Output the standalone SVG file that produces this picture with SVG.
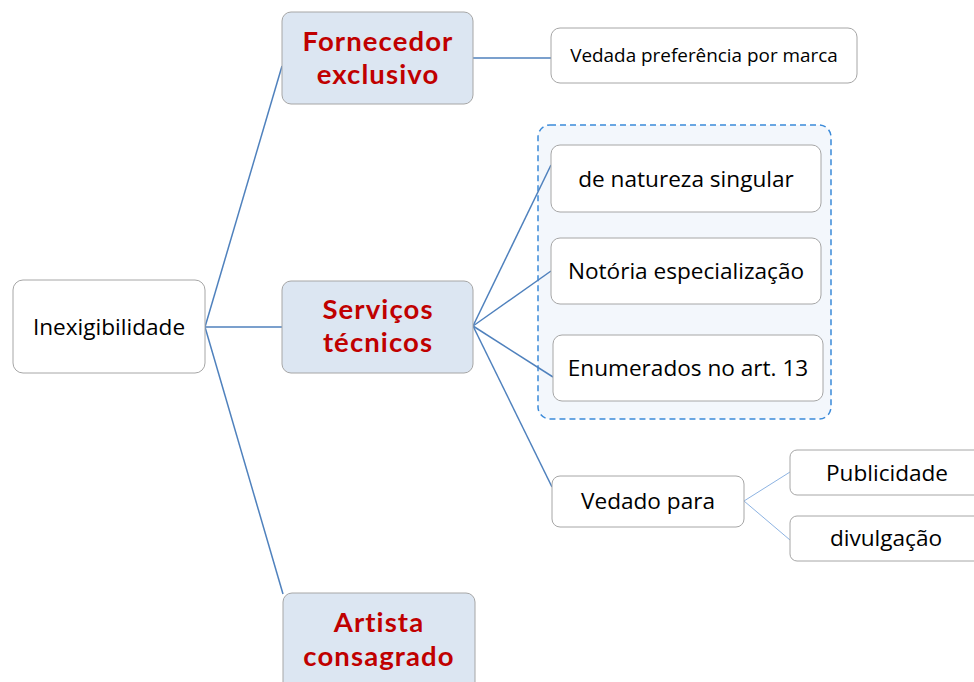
<svg xmlns="http://www.w3.org/2000/svg" width="974" height="682" viewBox="0 0 974 682">
<style>
.box{fill:#ffffff;stroke:#a6a6a6;stroke-width:1}
.cat{fill:#dce6f2;stroke:#a6a6a6;stroke-width:1}
.t{font-family:"Open Sans","Liberation Sans",sans-serif;fill:#000;text-anchor:middle;font-size:22.6px}
.r{font-family:Lato,"Open Sans",sans-serif;fill:#c00000;font-weight:bold;text-anchor:middle;font-size:27.5px;letter-spacing:1.1px}
.c{stroke:#4f81bd;stroke-width:1.5;fill:none}
.c2{stroke:#8db3e2;stroke-width:1;fill:none}
</style>
<rect width="974" height="682" fill="#fff"/>
<g id="grupo">
<rect x="538" y="125" width="293" height="294" rx="12" fill="#f3f7fc" stroke="#3b8ad9" stroke-width="1.5" stroke-dasharray="6,4"/>
</g>
<g id="connectors">
<line class="c" x1="205" y1="327" x2="282" y2="66"/>
<line class="c" x1="205" y1="327" x2="282" y2="327"/>
<line class="c" x1="205" y1="327" x2="283" y2="594"/>
<line class="c" x1="473" y1="58" x2="551" y2="58"/>
<line class="c" x1="473" y1="326" x2="551" y2="165"/>
<line class="c" x1="473" y1="326" x2="551" y2="271"/>
<line class="c" x1="473" y1="326" x2="553" y2="377"/>
<line class="c" x1="473" y1="326" x2="552" y2="487"/>
<line class="c2" x1="744" y1="501" x2="790" y2="472"/>
<line class="c2" x1="744" y1="501" x2="790" y2="540"/>
</g>
<g id="inexigibilidade">
<rect class="box" x="13" y="280" width="192" height="93" rx="10"/>
<text class="t" x="109" y="335">Inexigibilidade</text>
</g>
<g id="fornecedor">
<rect class="cat" x="282" y="12" width="191" height="92" rx="9"/>
<text class="r" x="378" y="51">Fornecedor</text>
<text class="r" x="378" y="84">exclusivo</text>
</g>
<g id="servicos">
<rect class="cat" x="282" y="281" width="191" height="92" rx="9"/>
<text class="r" x="378" y="319">Serviços</text>
<text class="r" x="378" y="352">técnicos</text>
</g>
<g id="artista">
<rect class="cat" x="283" y="593" width="192" height="100" rx="9"/>
<text class="r" x="379" y="632">Artista</text>
<text class="r" x="379" y="666">consagrado</text>
</g>
<g id="vedada">
<rect class="box" x="551" y="28" width="306" height="55" rx="9"/>
<text class="t" x="704" y="62" style="font-size:18.9px">Vedada preferência por marca</text>
</g>
<g id="natureza">
<rect class="box" x="551" y="145" width="270" height="67" rx="9"/>
<text class="t" x="686" y="187">de natureza singular</text>
</g>
<g id="notoria">
<rect class="box" x="551" y="238" width="270" height="66" rx="9"/>
<text class="t" x="686" y="279">Notória especialização</text>
</g>
<g id="enumerados">
<rect class="box" x="553" y="335" width="270" height="66" rx="9"/>
<text class="t" x="688" y="376">Enumerados no art. 13</text>
</g>
<g id="vedado">
<rect class="box" x="552" y="476" width="192" height="51" rx="8"/>
<text class="t" x="648" y="509">Vedado para</text>
</g>
<g id="publicidade">
<rect class="box" x="790" y="450" width="200" height="45" rx="7"/>
<text class="t" x="887" y="481">Publicidade</text>
</g>
<g id="divulgacao">
<rect class="box" x="790" y="516" width="200" height="45" rx="7"/>
<text class="t" x="886" y="546">divulgação</text>
</g>
</svg>
